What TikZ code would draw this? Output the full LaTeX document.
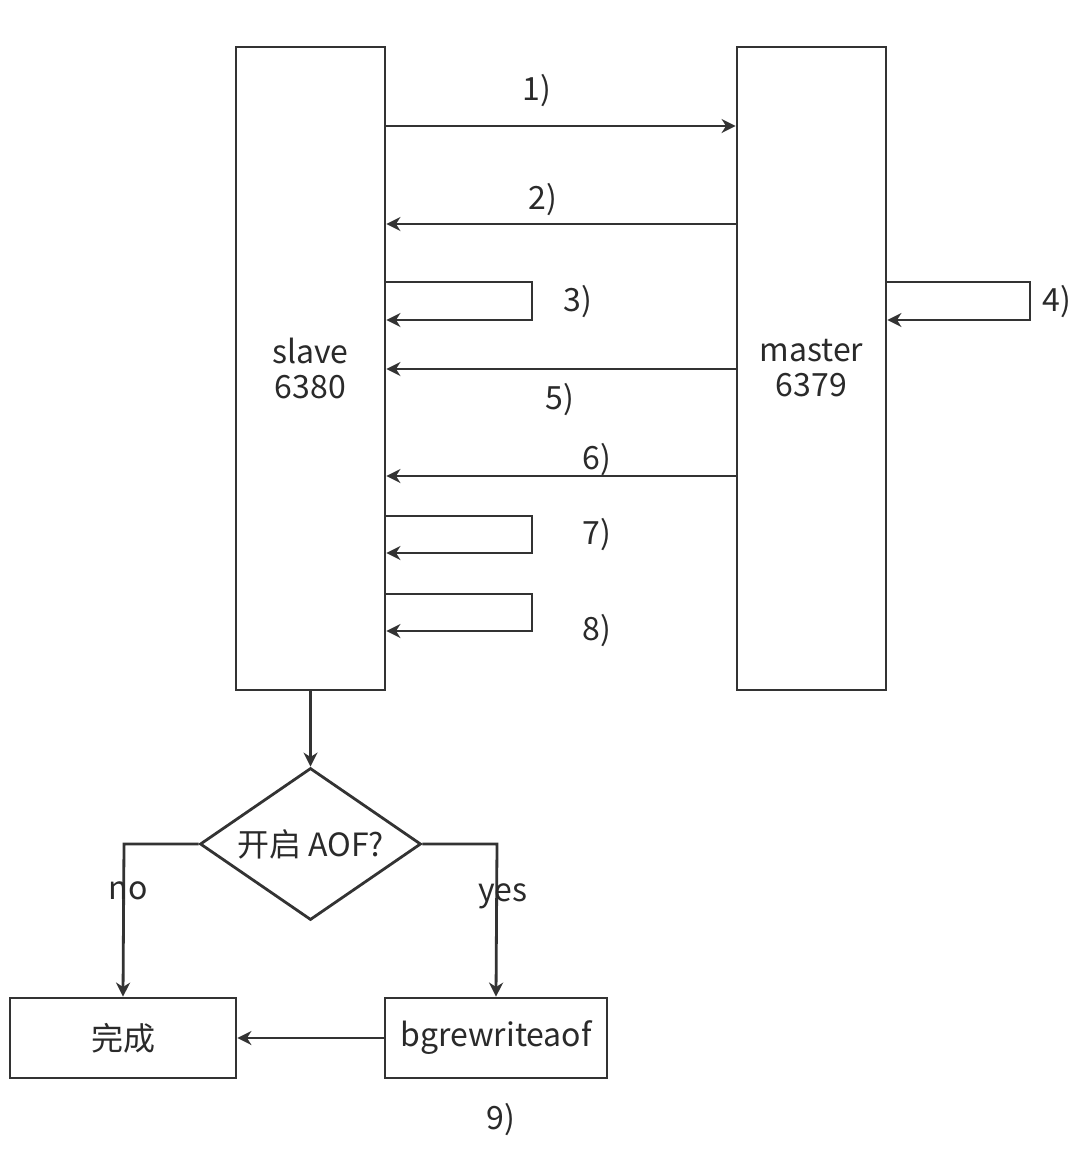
\documentclass[tikz,border=0pt]{standalone}
\usepackage{fontspec}
\setmainfont{Noto Sans CJK SC}
\usetikzlibrary{arrows.meta,shapes.geometric}
\definecolor{ln}{HTML}{333333}
\definecolor{tx}{HTML}{2A2A2A}
\begin{document}
\begin{tikzpicture}[x=0.5pt,y=-0.5pt,
  line width=1.4pt,
  every node/.style={text=tx,font=\fontsize{16pt}{17.5pt}\selectfont},
  conn/.style={draw=ln,-{Stealth[length=7pt,width=7pt,inset=2.2pt]}},
  tallbox/.style={draw=ln,rectangle,inner sep=0pt,minimum width=74.5pt,minimum height=321.5pt,align=center},
  endbox/.style={draw=ln,rectangle,inner sep=0pt,minimum height=40pt},
  lbl/.style={inner sep=0pt}
]
\useasboundingbox (0,0) rectangle (1085,1152);
\node[tallbox] (slave) at (310.5,368.5) {slave\\6380};
\node[tallbox] (master) at (811.5,368.5) {master\\6379};
\node[draw=ln,diamond,aspect=1.45,inner sep=0pt,minimum width=110.5pt,minimum height=76pt] (dec) at (310.5,844) {开启 AOF?};
\node[endbox,minimum width=113pt] (done) at (123,1038) {完成};
\node[endbox,minimum width=111pt] (bg) at (496,1038) {bgrewriteaof};

\coordinate (y1) at (0,126);
\coordinate (y2) at (0,224);
\coordinate (y3a) at (0,282);
\coordinate (y3b) at (0,320);
\coordinate (y5) at (0,369);
\coordinate (y6) at (0,476);
\coordinate (y7a) at (0,516);
\coordinate (y7b) at (0,553);
\coordinate (y8a) at (0,594);
\coordinate (y8b) at (0,631);
\coordinate (xs) at (532,0);
\coordinate (xm) at (1030,0);
\coordinate (xno) at (124,0);
\coordinate (xyes) at (497,0);

\draw[conn] (slave.east |- y1) -- (master.west |- y1);
\draw[conn] (master.west |- y2) -- (slave.east |- y2);
\draw[conn] (slave.east |- y3a) -- (xs |- y3a) -- (xs |- y3b) -- (slave.east |- y3b);
\draw[conn] (master.east |- y3a) -- (xm |- y3a) -- (xm |- y3b) -- (master.east |- y3b);
\draw[conn] (master.west |- y5) -- (slave.east |- y5);
\draw[conn] (master.west |- y6) -- (slave.east |- y6);
\draw[conn] (slave.east |- y7a) -- (xs |- y7a) -- (xs |- y7b) -- (slave.east |- y7b);
\draw[conn] (slave.east |- y8a) -- (xs |- y8a) -- (xs |- y8b) -- (slave.east |- y8b);

\draw[conn] (slave.south) -- (dec.north);
\draw[conn] (dec.west) -- (xno |- dec.west) -- (done.north);
\draw[conn] (dec.east) -- (xyes |- dec.east) -- (bg.north);
\draw[conn] (bg.west) -- (done.east);

\node[lbl] (l1) at (537,91) {1)};
\node[lbl] (l2) at (543,200) {2)};
\node[lbl] (l3) at (578,302) {3)};
\node[lbl] (l4) at (1057,302) {4)};
\node[lbl] (l5) at (560,400) {5)};
\node[lbl] (l6) at (597,460) {6)};
\node[lbl] (l7) at (597,535) {7)};
\node[lbl] (l8) at (597,631) {8)};
\node[lbl] (lno) at (128,891) {no};
\node[lbl] (lyes) at (503,896) {yes};
\node[lbl] (l9) at (501,1120) {9)};
\end{tikzpicture}
\end{document}
